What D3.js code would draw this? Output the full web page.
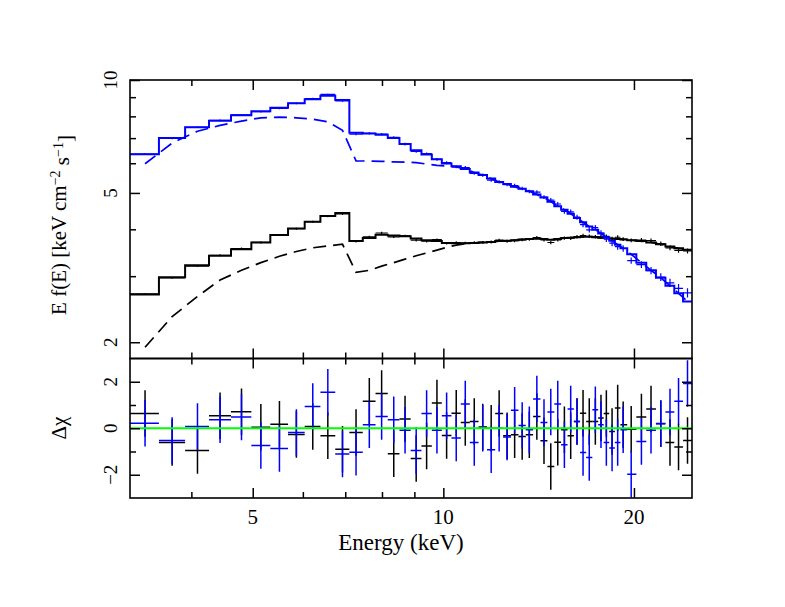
<!DOCTYPE HTML>
<html>
<head>
  <title>Spectrum with delchi residuals</title>
  <meta charset="UTF-8">
  <script src="https://d3js.org/d3.v7.min.js"></script>
  <style>
  body {
    margin: 0;
    background: #fff;
  }

  .frame {
    fill: none;
    stroke: #000;
    stroke-width: 1.6;
  }

  .tick line {
    stroke-width: 1.5;
  }
  </style>
</head>
<body>
  <svg width="785" height="607"></svg>
  <script>
    // bin centres (keV)
    var energy = [3.38, 3.73, 4.09, 4.44, 4.80, 5.15, 5.51, 5.86, 6.22, 6.57, 6.93,
      7.28, 7.64, 7.99, 8.35, 8.70, 9.06, 9.41, 9.77, 10.12, 10.48, 10.83, 11.19, 11.54,
      11.90, 12.25, 12.61, 12.96, 13.32, 13.67,
      14.05, 14.42, 14.78, 15.16, 15.53, 15.89, 16.26, 16.62, 17.00, 17.38, 17.74, 18.09,
      18.47, 18.85, 19.23,
      19.80, 20.55, 21.28, 22.05, 22.80, 23.52, 24.30]

    // total model, E f(E)
    var blackModel = [2.68, 2.98, 3.21, 3.40, 3.54, 3.69, 3.86, 4.02, 4.19, 4.34, 4.42,
      3.72, 3.79, 3.87, 3.85, 3.83, 3.78, 3.74, 3.72, 3.68, 3.67, 3.67, 3.68, 3.69, 3.70,
      3.72, 3.73, 3.74, 3.76, 3.77,
      3.78, 3.77, 3.75, 3.77, 3.79, 3.80, 3.81, 3.82, 3.82, 3.81, 3.80, 3.80, 3.78, 3.77, 3.76,
      3.74, 3.72, 3.69, 3.65, 3.60, 3.56, 3.53]

    var blueModel = [6.34, 7.01, 7.48, 7.79, 8.06, 8.26, 8.44, 8.67, 8.88, 9.08, 8.84,
      7.23, 7.20, 7.15, 7.01, 6.75, 6.50, 6.33, 6.15, 5.99, 5.89, 5.79, 5.67, 5.58, 5.46,
      5.35, 5.28, 5.19, 5.13, 5.05,
      4.95, 4.86, 4.74, 4.61, 4.51, 4.40, 4.29, 4.18, 4.07, 3.99, 3.90, 3.81, 3.73, 3.64, 3.56,
      3.43, 3.26, 3.11, 2.97, 2.83, 2.70, 2.57]

    // model component (dashed)
    var blackComp = [1.94, 2.34, 2.65, 2.93, 3.11, 3.26, 3.39, 3.49, 3.57, 3.61, 3.65,
      3.07, 3.11, 3.19, 3.26, 3.33, 3.40, 3.46, 3.52, 3.58, 3.63, 3.66, 3.68, 3.69, 3.70,
      3.72, 3.73, 3.74, 3.76, 3.77,
      3.78, 3.77, 3.75, 3.77, 3.79, 3.80, 3.81, 3.82, 3.82, 3.81, 3.80, 3.80, 3.78, 3.77, 3.76,
      3.74, 3.72, 3.69, 3.65, 3.60, 3.56, 3.53]

    var blueComp = [5.98, 6.79, 7.30, 7.57, 7.77, 7.93, 7.96, 7.93, 7.86, 7.74, 7.34,
      6.09, 6.08, 6.07, 6.05, 6.04, 6.02, 5.97, 5.92, 5.90, 5.87, 5.79, 5.67, 5.58, 5.46,
      5.35, 5.28, 5.19, 5.13, 5.05,
      4.95, 4.86, 4.74, 4.61, 4.51, 4.40, 4.29, 4.18, 4.07, 3.99, 3.90, 3.81, 3.73, 3.64, 3.56,
      3.43, 3.26, 3.11, 2.97, 2.83, 2.70, 2.57]

    // delta chi residuals
    var blackResid = [0.63, -0.61, -0.96, 0.54, 0.71, 0.04, 0.17, -0.27, 0.08, -0.32, -0.90,
      -0.18, 1.16, 1.49, -1.10, 0.40, -1.30, -0.76, 1.09, -0.31, 0.65, 0.25, 0.29, 0.05, 0.00,
      0.63, -0.32, -0.28, -0.35, -0.28,
      0.51, -0.54, -1.65, -0.60, -0.06, -0.32, 0.29, 0.65, 0.29, 0.29, 0.44, 0.63, -0.14, 0.87, 0.15,
      -0.04, 0.48, 0.83, 0.19, -0.61, -0.81, -0.53]

    var blueResid = [0.22, -0.53, 0.08, 0.37, 0.48, -0.74, -0.87, -0.18, 0.94, 1.55, -1.11,
      -1.03, 0.15, 0.51, 0.37, -0.09, -0.96, 0.63, -0.09, 0.54, -0.42, 1.04, -0.61, 0.00, -0.93,
      0.00, -0.38, 0.77, 0.12, -0.06,
      1.26, 0.25, 0.70, 1.04, -0.71, 0.83, 0.29, -1.04, -1.26, 0.80, 0.15, -0.61, -0.85, -0.61, -0.06,
      -1.98, -0.57, -0.09, 0.20, 0.70, 1.16, 1.92]

    // 1 sigma errors in percent of the flux
    var blackErr = [0.6, 0.6, 0.6, 0.6, 0.6, 0.6, 0.6, 0.6, 0.6, 0.6, 0.6,
      0.7, 0.7, 0.7, 0.7, 0.7, 0.8, 0.8, 0.8, 0.8, 0.8, 0.8, 0.8, 0.9, 0.9,
      0.9, 0.9, 0.9, 0.9, 0.9,
      1.0, 1.0, 1.0, 1.0, 1.0, 1.1, 1.1, 1.1, 1.1, 1.1, 1.2, 1.2, 1.2, 1.2, 1.2,
      1.2, 1.3, 1.3, 1.4, 1.4, 1.5, 1.5]

    var blueErr = [0.5, 0.5, 0.5, 0.5, 0.5, 0.5, 0.5, 0.5, 0.5, 0.5, 0.5,
      0.7, 0.7, 0.7, 0.7, 0.8, 0.8, 0.8, 0.8, 0.9, 0.9, 0.9, 0.9, 1.0, 1.0,
      1.0, 1.0, 1.1, 1.1, 1.1,
      1.2, 1.2, 1.3, 1.3, 1.4, 1.4, 1.5, 1.5, 1.6, 1.6, 1.7, 1.8, 1.8, 1.9, 2.0,
      1.9, 2.1, 2.2, 2.4, 2.5, 2.7, 2.8]

    var xMajor = [5, 10, 20]
    var xMinor = [4, 6, 7, 8, 9]
    var yMajor = [2, 5, 10]
    var yMinor = [3, 4, 6, 7, 8, 9]
    var rMajor = [-2, 0, 2]
    var rMinor = [-1, 1]

    var serif = "'Liberation Serif', 'Times New Roman', serif"

    var svg = d3.select("svg")
    var plotL = 130, plotR = 692, plotT = 80, plotM = 358.5, plotB = 498
    var eMin = 3.2, eMax = 24.7

    var x = d3.scaleLog().domain([eMin, eMax]).range([plotL, plotR])
    var y = d3.scaleLog().domain([1.81, 10]).range([plotM, plotT])
    var yr = d3.scaleLinear().domain([-3, 3]).range([plotB, plotM])

    var n = energy.length
    var lo = energy.map(function(e, i) { return i == 0 ? eMin : (energy[i - 1] + e) / 2 })
    var hi = energy.map(function(e, i) { return i == n - 1 ? eMax : (e + energy[i + 1]) / 2 })

    var defs = svg.append("defs")
    defs.append("clipPath").attr("id", "clip-top").append("rect")
      .attr("x", plotL).attr("y", plotT).attr("width", plotR - plotL).attr("height", plotM - plotT)
    defs.append("clipPath").attr("id", "clip-bot").append("rect")
      .attr("x", plotL).attr("y", plotM).attr("width", plotR - plotL).attr("height", plotB - plotM)

    var gTop = svg.append("g").attr("clip-path", "url(#clip-top)")
    var gBot = svg.append("g").attr("clip-path", "url(#clip-bot)")

    var step = d3.line()
      .x(function(d) { return x(d[0]) })
      .y(function(d) { return y(d[1]) })
      .curve(d3.curveStepAfter)

    var smooth = d3.line()
      .x(function(d) { return x(d[0]) })
      .y(function(d) { return y(d[1]) })

    function drawSpectrum(model, comp, resid, err, color) {
      // dashed component
      gTop.append("path")
        .datum(energy.map(function(e, i) { return [e, comp[i]] }))
        .attr("d", smooth)
        .attr("fill", "none")
        .attr("stroke", color)
        .attr("stroke-width", 1.7)
        .attr("stroke-dasharray", "13,7")

      // total model histogram
      var pts = model.map(function(v, i) { return [lo[i], v] })
      pts.push([hi[n - 1], model[n - 1]])
      gTop.append("path")
        .datum(pts)
        .attr("d", step)
        .attr("fill", "none")
        .attr("stroke", color)
        .attr("stroke-width", 2)

      // data crosses
      var data = model.map(function(v, i) { return v * (1 + resid[i] * err[i] / 100) })
      var cr = gTop.append("g").attr("stroke", color).attr("stroke-width", 1.2)
      cr.selectAll(".h").data(d3.range(n)).enter().append("line")
        .attr("x1", function(i) { return x(lo[i]) })
        .attr("x2", function(i) { return x(hi[i]) })
        .attr("y1", function(i) { return y(data[i]) })
        .attr("y2", function(i) { return y(data[i]) })
      cr.selectAll(".v").data(d3.range(n)).enter().append("line")
        .attr("x1", function(i) { return x(energy[i]) })
        .attr("x2", function(i) { return x(energy[i]) })
        .attr("y1", function(i) { return y(data[i] * (1 - err[i] / 100)) })
        .attr("y2", function(i) { return y(data[i] * (1 + err[i] / 100)) })

      // residual crosses
      var rc = gBot.append("g").attr("stroke", color).attr("stroke-width", 1.5)
      rc.selectAll(".h").data(d3.range(n)).enter().append("line")
        .attr("x1", function(i) { return x(lo[i]) })
        .attr("x2", function(i) { return x(hi[i]) })
        .attr("y1", function(i) { return yr(resid[i]) })
        .attr("y2", function(i) { return yr(resid[i]) })
      rc.selectAll(".v").data(d3.range(n)).enter().append("line")
        .attr("x1", function(i) { return x(energy[i]) })
        .attr("x2", function(i) { return x(energy[i]) })
        .attr("y1", function(i) { return yr(resid[i] - 1) })
        .attr("y2", function(i) { return yr(resid[i] + 1) })
    }

    drawSpectrum(blackModel, blackComp, blackResid, blackErr, "#000")
    drawSpectrum(blueModel, blueComp, blueResid, blueErr, "#0000ff")

    gBot.append("line")
      .attr("x1", plotL).attr("x2", plotR)
      .attr("y1", yr(0)).attr("y2", yr(0))
      .attr("stroke", "#00ff00")
      .attr("stroke-width", 2)

    // ticks on all sides, pointing inwards
    function ticks(axisFn, scale, values, size, tx, ty) {
      svg.append("g")
        .attr("transform", "translate(" + tx + "," + ty + ")")
        .call(axisFn(scale).tickValues(values).tickSize(-size).tickFormat(""))
        .call(function(g) {
          g.select(".domain").remove()
          g.selectAll("text").remove()
        })
    }

    ticks(d3.axisTop, x, xMajor, 10, 0, plotT)
    ticks(d3.axisTop, x, xMinor, 6, 0, plotT)
    ticks(d3.axisBottom, x, xMajor, 10, 0, plotM)
    ticks(d3.axisBottom, x, xMinor, 6, 0, plotM)
    ticks(d3.axisTop, x, xMajor, 10, 0, plotM)
    ticks(d3.axisTop, x, xMinor, 6, 0, plotM)
    ticks(d3.axisBottom, x, xMajor, 10, 0, plotB)
    ticks(d3.axisBottom, x, xMinor, 6, 0, plotB)

    ticks(d3.axisLeft, y, yMajor, 10, plotL, 0)
    ticks(d3.axisLeft, y, yMinor, 6, plotL, 0)
    ticks(d3.axisRight, y, yMajor, 10, plotR, 0)
    ticks(d3.axisRight, y, yMinor, 6, plotR, 0)
    ticks(d3.axisLeft, yr, rMajor, 10, plotL, 0)
    ticks(d3.axisLeft, yr, rMinor, 6, plotL, 0)
    ticks(d3.axisRight, yr, rMajor, 10, plotR, 0)
    ticks(d3.axisRight, yr, rMinor, 6, plotR, 0)

    svg.append("rect").attr("class", "frame")
      .attr("x", plotL).attr("y", plotT).attr("width", plotR - plotL).attr("height", plotM - plotT)
    svg.append("rect").attr("class", "frame")
      .attr("x", plotL).attr("y", plotM).attr("width", plotR - plotL).attr("height", plotB - plotM)

    // tick labels
    svg.selectAll(".xlab").data(xMajor).enter().append("text")
      .attr("x", function(d) { return x(d) })
      .attr("y", 524)
      .attr("text-anchor", "middle")
      .style("font-family", serif)
      .style("font-size", "21px")
      .text(function(d) { return d })

    svg.selectAll(".ylab").data(yMajor).enter().append("text")
      .attr("transform", function(d) { return "translate(117," + y(d) + ") rotate(-90)" })
      .attr("text-anchor", "middle")
      .style("font-family", serif)
      .style("font-size", "19px")
      .text(function(d) { return d })

    svg.selectAll(".rlab").data(rMajor).enter().append("text")
      .attr("transform", function(d) { return "translate(117," + yr(d) + ") rotate(-90)" })
      .attr("text-anchor", "middle")
      .style("font-family", serif)
      .style("font-size", "19px")
      .text(function(d) { return d < 0 ? "\u2212" + Math.abs(d) : d })

    // axis titles
    svg.append("text")
      .attr("x", 401).attr("y", 550)
      .attr("text-anchor", "middle")
      .style("font-family", serif)
      .style("font-size", "23px")
      .text("Energy (keV)")

    var yt = svg.append("text")
      .attr("transform", "translate(66,225) rotate(-90)")
      .attr("text-anchor", "middle")
      .style("font-family", serif)
      .style("font-size", "21px")
    yt.append("tspan").text("E f(E) [keV cm")
    yt.append("tspan").attr("dy", "-0.45em").style("font-size", "14px").text("\u22122")
    yt.append("tspan").attr("dy", "0.45em").text(" s")
    yt.append("tspan").attr("dy", "-0.45em").style("font-size", "14px").text("\u22121")
    yt.append("tspan").attr("dy", "0.45em").text("]")

    svg.append("text")
      .attr("transform", "translate(66,428) rotate(-90)")
      .attr("text-anchor", "middle")
      .style("font-family", serif)
      .style("font-size", "21px")
      .text("\u0394\u03c7")
  </script>
</body>
</html>
